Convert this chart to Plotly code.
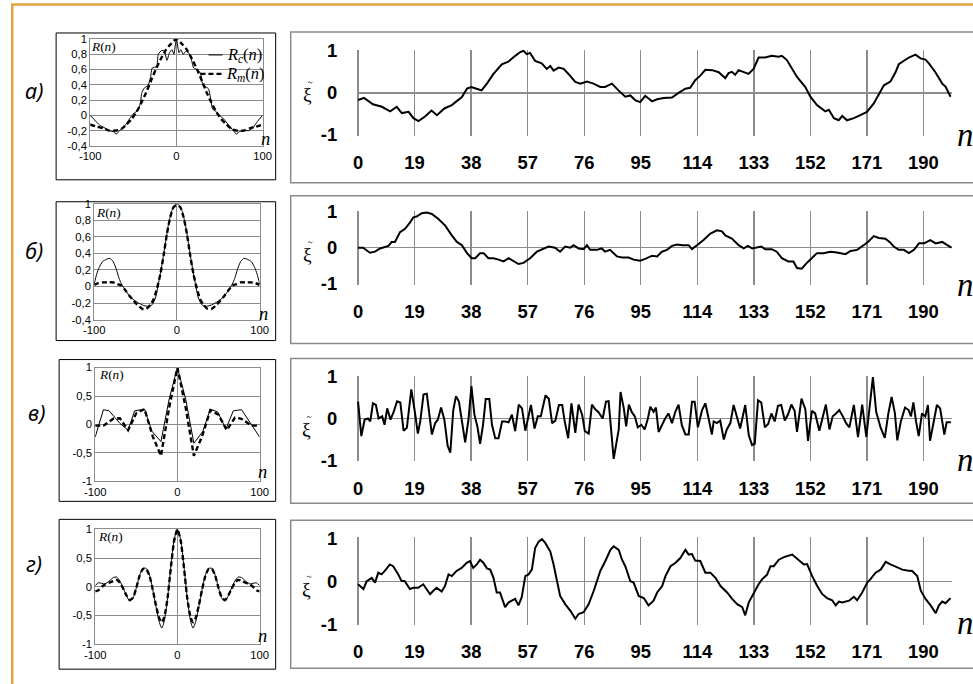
import plotly.graph_objects as go

W, H = 973, 684

# ---------------- DATA ----------------
# right panels: realisations xi(n), pairs (n, value)
xi_a = [(0,-0.17),(2,-0.12),(5,-0.27),(8,-0.33),(10.8,-0.44),(13,-0.33),(14.7,-0.48),(17,-0.45),(18.6,-0.6),(20.3,-0.67),(22.5,-0.56),(24.7,-0.42),(26.5,-0.53),(29,-0.37),(31.5,-0.29),(33.7,-0.17),(34.9,-0.1),(36.6,0.1),(38.1,0.14),(39.8,0.1),(41.5,0.06),(43.3,0.22),(45.5,0.45),(48.3,0.68),(50.5,0.74),(52.8,0.88),(54.5,0.97),(55.6,1.0),(56.7,0.92),(57.8,0.95),(59.5,0.76),(61.7,0.7),(63.4,0.57),(64.6,0.64),(65.7,0.53),(67.4,0.6),(69.1,0.57),(70.7,0.45),(73,0.26),(74.7,0.22),(76.9,0.27),(79.1,0.22),(81.4,0.14),(83,0.14),(85.3,0.22),(87.5,0.06),(89.8,-0.09),(91.5,-0.06),(93.1,-0.17),(94.8,-0.22),(96.5,-0.07),(98.8,-0.2),(100.5,-0.15),(102.7,-0.12),(105.5,-0.11),(107.7,0.0),(110,0.1),(111.6,0.12),(113.3,0.3),(115,0.41),(116.7,0.55),(119,0.54),(121.2,0.49),(123.4,0.35),(124.5,0.47),(125.6,0.5),(126.7,0.43),(127.9,0.54),(129.6,0.5),(131.2,0.45),(132.9,0.57),(134.6,0.84),(136.8,0.84),(139,0.88),(141.3,0.86),(142.4,0.88),(144.1,0.78),(145.8,0.57),(147.5,0.38),(150.3,0.14),(152,-0.09),(154.2,-0.29),(157,-0.44),(158.2,-0.4),(159.9,-0.6),(161.5,-0.65),(162.7,-0.55),(164.3,-0.65),(166.6,-0.6),(168.8,-0.53),(171,-0.45),(173.3,-0.25),(175,-0.02),(176.7,0.18),(178.9,0.27),(180.6,0.49),(181.7,0.68),(182.8,0.73),(184,0.79),(185.1,0.84),(187.3,0.91),(189,0.82),(190.7,0.79),(191.8,0.7),(194,0.49),(196.3,0.22),(197.4,0.15),(199.1,-0.09)]

xi_b = [(0,0.0),(1.7,0.0),(4,-0.14),(5.7,-0.11),(7.4,-0.02),(9.1,0.03),(10.2,0.05),(11.3,0.16),(12.4,0.16),(14.1,0.43),(15.8,0.52),(17.5,0.7),(18.6,0.84),(19.7,0.86),(21.4,0.95),(23.1,0.97),(24.8,0.93),(27,0.79),(29.3,0.61),(31.5,0.34),(33.2,0.16),(34.9,0.07),(36.6,-0.15),(38.2,-0.29),(39.4,-0.29),(41,-0.15),(42.2,-0.15),(43.8,-0.29),(45.5,-0.29),(47.2,-0.33),(48.9,-0.38),(50.6,-0.29),(52.3,-0.38),(53.9,-0.45),(55.6,-0.42),(57.8,-0.29),(60.1,-0.11),(61.8,-0.04),(64,0.03),(66.2,0.0),(67.9,-0.11),(69.6,0.03),(71.3,0.0),(72.4,0.07),(74.1,-0.02),(75.8,-0.04),(76.9,0.07),(78,-0.06),(80.2,-0.06),(81.9,-0.02),(83,-0.11),(84.7,-0.06),(87,-0.24),(88.7,-0.27),(90.9,-0.27),(92.6,-0.33),(94.8,-0.36),(96.5,-0.31),(98.8,-0.22),(100.5,-0.24),(102.1,-0.11),(103.8,-0.06),(105.5,0.05),(107.2,0.09),(108.9,0.07),(111.1,0.07),(112.2,-0.04),(113.9,0.07),(116.1,0.21),(118.4,0.39),(120.6,0.48),(122.3,0.45),(123.4,0.34),(125.6,0.25),(127.9,0.07),(129.6,-0.02),(131,0.05),(132.4,-0.02),(134,0.0),(135.5,0.03),(136.8,-0.04),(139,-0.04),(140.7,-0.11),(142.4,-0.29),(144.6,-0.38),(146.3,-0.38),(147.5,-0.56),(149.1,-0.58),(150.8,-0.42),(152.5,-0.29),(154.2,-0.15),(156.4,-0.15),(158.7,-0.11),(160.9,-0.13),(163.8,-0.18),(165.5,-0.09),(167.7,-0.06),(169.9,0.07),(171.6,0.18),(173.3,0.32),(175,0.27),(177.2,0.25),(178.9,0.14),(180,0.03),(181.7,-0.06),(183.4,-0.06),(185.1,-0.15),(186.8,-0.06),(188.5,0.12),(190.2,0.12),(192.3,0.21),(194.1,0.12),(196.3,0.16),(198,0.07),(199.4,0.0)]

xi_c = [(0,0.4),(1.1,-0.42),(2.2,-0.03),(3.3,0.0),(4.1,-0.07),(5.0,0.36),(6.0,0.32),(6.9,0.0),(8.1,0.05),(8.9,-0.15),(9.8,0.24),(10.9,-0.03),(12.0,0.16),(13.1,0.41),(14.2,0.38),(15.3,-0.29),(16.4,-0.22),(17.9,0.69),(19.0,0.2),(20.1,-0.36),(20.9,-0.07),(22.0,0.57),(23.1,0.59),(24.8,-0.38),(25.9,-0.11),(26.8,-0.03),(27.9,0.26),(29.0,-0.03),(30.1,-0.65),(31.0,-0.81),(32.0,0.2),(32.9,0.53),(33.9,0.4),(35.1,-0.22),(36.0,-0.57),(37.1,-0.03),(38.1,0.77),(39.1,0.09),(40.1,-0.19),(41.0,-0.6),(42.0,-0.15),(42.9,0.46),(44.1,0.46),(45.0,-0.15),(46.1,-0.47),(47.2,-0.47),(48.4,-0.07),(49.5,-0.07),(50.6,-0.09),(51.7,0.09),(52.8,-0.3),(54.0,0.33),(55.1,0.24),(56.2,-0.29),(57.1,0.02),(58.1,0.32),(59.3,-0.24),(60.4,0.05),(61.4,0.05),(63.0,0.55),(64.1,0.47),(65.2,-0.11),(66.3,-0.05),(67.5,0.32),(68.6,0.32),(69.4,-0.05),(70.6,-0.47),(71.7,0.36),(73.0,-0.34),(74.1,0.33),(75.3,0.09),(76.2,-0.3),(77.5,-0.36),(78.6,0.33),(79.7,0.22),(80.8,0.15),(82.2,0.0),(83.3,0.4),(84.2,0.41),(85.9,-0.96),(87.6,-0.26),(88.2,0.63),(89.3,0.24),(90.1,-0.19),(91.0,0.33),(92.0,0.15),(93.0,0.05),(94.0,-0.21),(95.2,-0.15),(96.3,-0.26),(97.4,0.0),(98.2,0.28),(99.3,0.16),(100.1,0.26),(101.0,-0.32),(102.1,-0.15),(103.2,0.0),(104.3,0.12),(105.5,-0.11),(106.6,0.16),(107.7,0.33),(108.8,-0.16),(110.0,-0.38),(111.1,-0.38),(112.2,0.4),(113.1,0.4),(114.2,-0.21),(115.6,0.2),(116.7,0.36),(117.8,0.0),(118.9,-0.38),(119.5,-0.07),(120.6,-0.11),(121.7,-0.05),(122.9,-0.5),(123.9,-0.26),(125.1,-0.11),(126.2,0.32),(127.3,0.05),(128.4,-0.24),(130.1,0.32),(131.3,-0.4),(132.4,-0.63),(133.3,-0.6),(134.4,0.43),(135.5,0.38),(136.7,-0.21),(137.8,-0.13),(138.9,0.12),(140.0,-0.07),(141.1,0.3),(142.2,0.32),(143.4,-0.05),(144.5,0.1),(145.6,0.33),(146.7,0.18),(147.5,-0.32),(149.0,0.47),(150.3,0.22),(151.2,-0.53),(152.5,0.18),(153.6,0.12),(155.0,-0.29),(156.1,0.05),(157.2,0.33),(158.4,-0.26),(159.5,0.05),(160.6,0.12),(161.7,0.2),(162.9,0.05),(164.0,-0.11),(165.1,-0.21),(166.6,0.32),(168.0,-0.44),(169.4,0.33),(170.8,-0.44),(171.9,0.2),(173.0,0.98),(174.1,0.16),(175.6,-0.22),(177.0,-0.46),(178.2,0.12),(179.3,0.51),(180.4,0.12),(181.2,-0.52),(182.4,-0.07),(183.8,0.26),(185.0,0.2),(185.8,0.05),(186.6,0.38),(187.5,-0.07),(188.4,-0.42),(189.5,0.12),(190.6,0.05),(191.5,0.32),(192.2,-0.53),(193.3,-0.13),(194.5,0.32),(195.6,0.24),(197.0,-0.38),(197.8,-0.09),(199.2,-0.09)]

xi_d = [(0,-0.07),(1.8,-0.18),(2.9,0.0),(4.6,0.08),(5.7,-0.03),(6.8,0.2),(7.9,0.16),(9.0,0.24),(10.7,0.39),(11.8,0.35),(13.5,0.16),(14.6,0.01),(15.7,0.0),(17.4,-0.18),(18.6,-0.15),(20.2,-0.15),(21.9,-0.07),(23.0,-0.18),(24.2,-0.3),(25.3,-0.22),(26.4,-0.15),(28.1,-0.24),(29.2,-0.11),(30.4,0.16),(31.5,0.12),(33.1,0.24),(34.8,0.31),(36.5,0.43),(37.6,0.47),(38.7,0.31),(39.9,0.39),(41.0,0.5),(42.1,0.43),(43.3,0.3),(44.4,0.27),(45.5,0.08),(46.6,-0.26),(47.7,-0.26),(49.4,-0.6),(50.6,-0.49),(52.8,-0.41),(53.9,-0.56),(55.0,-0.37),(56.2,0.12),(57.3,0.16),(58.4,0.27),(59.5,0.77),(60.7,0.92),(61.8,0.98),(62.9,0.89),(64.6,0.69),(65.7,0.39),(66.8,0.0),(67.9,-0.34),(69.6,-0.53),(71.3,-0.68),(73.0,-0.87),(74.1,-0.76),(75.8,-0.72),(77.5,-0.53),(79.2,-0.22),(80.3,0.0),(81.4,0.24),(83.1,0.47),(84.8,0.73),(85.9,0.81),(87.6,0.73),(88.7,0.5),(89.8,0.35),(91.5,0.0),(92.6,-0.03),(94.3,-0.34),(96.0,-0.39),(97.6,-0.56),(99.3,-0.45),(100.5,-0.26),(102.2,-0.11),(103.3,0.12),(105.0,0.35),(106.7,0.43),(108.3,0.54),(110.0,0.73),(111.1,0.62),(112.2,0.63),(113.3,0.48),(115.0,0.47),(116.7,0.2),(118.4,0.2),(120.1,0.08),(121.8,-0.11),(122.9,-0.18),(124.0,-0.26),(125.7,-0.41),(127.4,-0.53),(129.1,-0.6),(130.1,-0.79),(131.3,-0.49),(133.0,-0.26),(134.6,-0.07),(135.8,0.05),(137.4,0.15),(138.6,0.35),(139.7,0.35),(141.4,0.5),(143.1,0.56),(145.9,0.62),(148.1,0.5),(149.8,0.39),(150.9,0.4),(152.6,0.12),(154.3,-0.11),(156.0,-0.3),(157.6,-0.39),(159.3,-0.44),(160.5,-0.56),(161.6,-0.47),(162.7,-0.49),(165.0,-0.45),(166.6,-0.36),(167.7,-0.44),(169.4,-0.26),(171.1,-0.03),(172.2,0.05),(173.9,0.2),(175.6,0.27),(177.3,0.45),(178.9,0.39),(181.2,0.31),(182.9,0.27),(184.5,0.25),(186.2,0.24),(187.9,0.12),(189.1,-0.22),(190.7,-0.41),(192.4,-0.56),(194.1,-0.74),(195.2,-0.56),(196.3,-0.47),(197.4,-0.51),(199.1,-0.39)]

# left panels: correlation functions, pairs (lag, R)
Rc_a = [(-100,0.0),(-95,-0.06),(-89,-0.13),(-84,-0.16),(-78,-0.2),(-72,-0.22),(-70,-0.25),(-66,-0.2),(-60,-0.14),(-54,-0.04),(-49,0.03),(-45,0.06),(-42,0.15),(-40,0.3),(-37,0.36),(-33,0.39),(-30,0.5),(-28,0.62),(-23,0.64),(-21,0.8),(-17,0.85),(-14,0.84),(-11,0.72),(-8,0.82),(-5,0.86),(-3,0.8),(0,1.0),(3,0.82),(5,0.86),(8,0.8),(11,0.84),(14,0.82),(17,0.75),(20,0.62),(24,0.6),(28,0.55),(30,0.42),(33,0.38),(37,0.35),(40,0.2),(42,0.08),(46,0.05),(50,0.0),(55,-0.05),(60,-0.12),(66,-0.2),(70,-0.25),(72,-0.22),(78,-0.2),(84,-0.2),(89,-0.16),(94,-0.08),(100,0.0)]
Rm_a = [(-100,-0.12),(-92,-0.15),(-85,-0.17),(-78,-0.2),(-70,-0.2),(-64,-0.18),(-58,-0.12),(-52,-0.05),(-46,0.05),(-40,0.18),(-35,0.3),(-30,0.44),(-24,0.6),(-18,0.74),(-12,0.86),(-6,0.94),(0,1.0),(6,0.94),(12,0.86),(18,0.74),(24,0.6),(30,0.44),(35,0.3),(40,0.18),(46,0.05),(52,-0.05),(58,-0.12),(64,-0.18),(70,-0.2),(78,-0.2),(85,-0.17),(92,-0.15),(100,-0.12)]

Rc_b = [(-100,0.03),(-97,0.15),(-94,0.23),(-90,0.3),(-85,0.33),(-81,0.34),(-77,0.3),(-73,0.2),(-70,0.1),(-67,0.03),(-62,-0.05),(-56,-0.13),(-48,-0.19),(-40,-0.23),(-34,-0.24),(-30,-0.22),(-26,-0.14),(-22,0.05),(-18,0.27),(-14,0.52),(-10,0.76),(-6,0.92),(-3,0.98),(0,1.0),(3,0.98),(6,0.92),(10,0.76),(14,0.52),(18,0.27),(22,0.05),(26,-0.14),(30,-0.22),(34,-0.24),(40,-0.23),(48,-0.19),(56,-0.13),(62,-0.05),(67,0.03),(70,0.1),(73,0.2),(77,0.3),(81,0.34),(85,0.33),(90,0.3),(94,0.23),(97,0.15),(100,0.03)]
Rm_b = [(-100,0.02),(-95,0.04),(-89,0.05),(-83,0.05),(-77,0.05),(-72,0.03),(-67,0.01),(-62,-0.05),(-56,-0.13),(-48,-0.22),(-42,-0.27),(-37,-0.27),(-32,-0.22),(-28,-0.15),(-24,-0.02),(-20,0.15),(-16,0.38),(-12,0.64),(-8,0.84),(-4,0.96),(0,0.98),(4,0.96),(8,0.84),(12,0.64),(16,0.38),(20,0.15),(24,-0.02),(28,-0.15),(32,-0.22),(37,-0.27),(42,-0.27),(48,-0.22),(56,-0.13),(62,-0.05),(67,0.01),(72,0.03),(77,0.05),(83,0.05),(89,0.05),(95,0.04),(100,0.02)]

Rc_c = [(-100,-0.22),(-90,0.26),(-83,0.24),(-70,0.02),(-60,-0.1),(-52,0.24),(-40,0.27),(-31,-0.12),(-20,-0.3),(-10,0.45),(0,1.0),(10,0.45),(20,-0.33),(31,-0.12),(40,0.27),(49,0.22),(59,-0.08),(68,0.24),(78,0.26),(89,0.03),(100,-0.22)]
Rm_c = [(-100,-0.02),(-90,-0.02),(-78,0.1),(-70,0.11),(-60,-0.1),(-50,0.2),(-40,0.27),(-30,-0.21),(-20,-0.55),(-10,0.3),(0,1.0),(10,0.3),(20,-0.55),(30,-0.21),(40,0.25),(50,0.17),(60,-0.1),(70,0.12),(78,0.1),(90,-0.02),(100,-0.02)]

Rc_d = [(-100,0.02),(-96,0.07),(-92,0.06),(-88,0.05),(-83,0.1),(-78,0.16),(-74,0.17),(-70,0.1),(-66,-0.02),(-62,-0.15),(-58,-0.25),(-54,-0.2),(-50,-0.02),(-46,0.2),(-42,0.32),(-38,0.32),(-34,0.2),(-30,-0.05),(-26,-0.35),(-22,-0.62),(-19,-0.72),(-16,-0.6),(-12,-0.2),(-8,0.35),(-4,0.82),(0,1.0),(4,0.82),(8,0.35),(12,-0.2),(16,-0.6),(19,-0.72),(22,-0.62),(26,-0.35),(30,-0.05),(34,0.2),(38,0.32),(42,0.32),(46,0.2),(50,-0.02),(54,-0.2),(58,-0.25),(62,-0.15),(66,-0.02),(70,0.1),(74,0.17),(78,0.16),(83,0.1),(88,0.05),(92,0.06),(96,0.07),(100,0.02)]
Rm_d = [(-100,-0.08),(-96,-0.06),(-92,0.0),(-88,0.04),(-83,0.07),(-78,0.1),(-74,0.12),(-70,0.07),(-66,-0.03),(-62,-0.15),(-58,-0.23),(-54,-0.19),(-50,-0.02),(-46,0.19),(-42,0.31),(-38,0.31),(-34,0.19),(-30,-0.05),(-26,-0.33),(-22,-0.55),(-19,-0.62),(-16,-0.53),(-12,-0.2),(-8,0.33),(-4,0.8),(0,1.0),(4,0.8),(8,0.33),(12,-0.2),(16,-0.53),(19,-0.62),(22,-0.55),(26,-0.33),(30,-0.05),(34,0.19),(38,0.31),(42,0.31),(46,0.19),(50,-0.02),(54,-0.19),(58,-0.23),(62,-0.15),(66,-0.03),(70,0.07),(74,0.12),(78,0.1),(83,0.07),(88,0.04),(92,0.0),(96,-0.06),(100,-0.08)]

row_labels = ["а)", "б)", "в)", "г)"]
xi_ticks = [0, 19, 38, 57, 76, 95, 114, 133, 152, 171, 190]
r_ticks_ab = [-0.4, -0.2, 0, 0.2, 0.4, 0.6, 0.8, 1]
r_text_ab = ["-0,4", "-0,2", "0", "0,2", "0,4", "0,6", "0,8", "1"]
r_ticks_cd = [-1, -0.5, 0, 0.5, 1]
r_text_cd = ["-1", "-0,5", "0", "0,5", "1"]

# ---------------- LAYOUT GEOMETRY (target picture pixels) ----------------
left_areas = [(87, 259, 37, 144), (91, 256, 202, 318), (92, 256, 366, 480), (92, 256, 528, 643)]
right_areas = [(353, 947, 48, 134), (353, 947, 209, 283), (353, 947, 374, 460), (353, 947, 536, 624)]
left_boxes = [(53, 31, 272, 178), (53, 200, 272, 339), (56, 358, 272, 500), (56, 518, 272, 668)]
right_boxes = [(287, 30, 1000, 181), (287, 194, 1000, 342), (287, 357, 1000, 502), (287, 519, 1000, 667)]

# the photographed page appears offset by ~8px and scaled slightly; compensate
OFF_X, OFF_Y, SC_X, SC_Y = 8.0, 8.0, 0.977, 0.972
K = 1 / SC_X

def fx(p):
    return ((p - OFF_X) / SC_X) / W

def fy(p):
    return 1 - ((p - OFF_Y) / SC_Y) / H

GRID = "#8c8c8c"
SANS = "Liberation Sans, Arial, sans-serif"
SERIF = "Liberation Serif, Times New Roman, serif"

fig = go.Figure()
layout = dict(width=W, height=H, margin=dict(l=0, r=0, t=0, b=0), hovermode=False,
              paper_bgcolor="white", plot_bgcolor="white", showlegend=False)

corr = [(Rc_a, Rm_a, "spline"), (Rc_b, Rm_b, "spline"), (Rc_c, Rm_c, "linear"), (Rc_d, Rm_d, "spline")]
series = [xi_a, xi_b, xi_c, xi_d]

for i in range(4):
    li, ri = 2 * i + 1, 2 * i + 2
    lx, rx = ("x" if li == 1 else f"x{li}"), f"x{ri}"
    ly, ry = ("y" if li == 1 else f"y{li}"), f"y{ri}"
    x0, x1, y0, y1 = left_areas[i]
    ab = i < 2
    layout["xaxis" if li == 1 else f"xaxis{li}"] = dict(
        domain=[fx(x0), fx(x1)], anchor=ly, range=[-100, 100],
        tickvals=[-100, 0, 100], ticktext=["-100", "0", "100"], ticks="",
        showgrid=False, zeroline=True, zerolinecolor=GRID, zerolinewidth=1,
        showline=True, mirror=True, linecolor=GRID, linewidth=1,
        tickfont=dict(family=SANS, size=11 * K, color="black"), fixedrange=True)
    layout["yaxis" if li == 1 else f"yaxis{li}"] = dict(
        domain=[fy(y1), fy(y0)], anchor=lx,
        range=[-0.4, 1] if ab else [-1, 1],
        tickvals=r_ticks_ab if ab else r_ticks_cd,
        ticktext=r_text_ab if ab else r_text_cd, ticks="",
        showgrid=True, gridcolor=GRID, gridwidth=1, zeroline=False,
        showline=True, mirror=True, linecolor=GRID, linewidth=1,
        tickfont=dict(family=SANS, size=11 * K, color="black"), fixedrange=True)
    X0, X1, Y0, Y1 = right_areas[i]
    layout[f"xaxis{ri}"] = dict(
        domain=[fx(X0), fx(X1)], anchor=ry, range=[-0.4, 199.7],
        tickvals=xi_ticks, ticktext=[str(t) for t in xi_ticks],
        ticks="outside", ticklen=10, tickcolor="rgba(0,0,0,0)",
        showgrid=True, gridcolor=GRID, gridwidth=1.3, zeroline=False, showline=False,
        tickfont=dict(family=SANS, size=18 * K, color="black", weight="bold"), fixedrange=True)
    layout[f"yaxis{ri}"] = dict(
        domain=[fy(Y1), fy(Y0)], anchor=rx, range=[-1.02, 1.02],
        tickvals=[-1, 0, 1], ticktext=["-1", "0", "1"],
        ticks="outside", ticklen=15, tickcolor="rgba(0,0,0,0)",
        showgrid=True, gridcolor=GRID, gridwidth=1.3, zeroline=False, showline=False,
        tickfont=dict(family=SANS, size=18 * K, color="black", weight="bold"), fixedrange=True)

    rc, rm, shape = corr[i]
    fig.add_trace(go.Scatter(x=[p[0] for p in rc], y=[p[1] for p in rc], mode="lines",
                             line=dict(color="black", width=1, shape=shape, smoothing=0.6),
                             xaxis=lx, yaxis=ly))
    fig.add_trace(go.Scatter(x=[p[0] for p in rm], y=[p[1] for p in rm], mode="lines",
                             line=dict(color="black", width=2.4, dash="5px,3px", shape=shape, smoothing=0.6),
                             xaxis=lx, yaxis=ly))
    s = series[i]
    fig.add_trace(go.Scatter(x=[p[0] for p in s], y=[p[1] for p in s], mode="lines",
                             line=dict(color="black", width=2),
                             xaxis=rx, yaxis=ry))

shapes = []
for (a, b, c, d) in left_boxes:
    shapes.append(dict(type="rect", xref="paper", yref="paper", x0=fx(a), x1=fx(c), y0=fy(b), y1=fy(d),
                       line=dict(color="black", width=1), layer="above"))
for (a, b, c, d) in right_boxes:
    shapes.append(dict(type="rect", xref="paper", yref="paper", x0=fx(a), x1=fx(c), y0=fy(b), y1=fy(d),
                       line=dict(color="#8a8a8a", width=1.5), layer="above"))
ORANGE = "#E5A23D"
top_y = max(fy(2.5), 1 - 1.3 / H)
left_x = max(fx(5), 1.3 / W)
shapes.append(dict(type="line", xref="paper", yref="paper", x0=0, x1=1.05, y0=top_y, y1=top_y,
                   line=dict(color=ORANGE, width=2.5)))
shapes.append(dict(type="line", xref="paper", yref="paper", x0=left_x, x1=left_x, y0=-0.05, y1=top_y,
                   line=dict(color=ORANGE, width=2.5)))
# legend samples (row a)
shapes.append(dict(type="line", xref="paper", yref="paper", x0=fx(205), x1=fx(219), y0=fy(53), y1=fy(53),
                   line=dict(color="black", width=1)))
shapes.append(dict(type="line", xref="paper", yref="paper", x0=fx(197), x1=fx(218), y0=fy(72), y1=fy(72),
                   line=dict(color="black", width=2.4, dash="5px,3px")))

ann = []
def text(x, y, t, size, family, xanchor="center", yanchor="middle", style="normal", weight="normal"):
    ann.append(dict(x=fx(x), y=fy(y), xref="paper", yref="paper", text=t, showarrow=False,
                    xanchor=xanchor, yanchor=yanchor,
                    font=dict(size=size * K, family=family, color="black", style=style, weight=weight)))

row_label_pos = [(31, 89), (31, 249), (33, 411), (31, 562)]
for (x, y), t in zip(row_label_pos, row_labels):
    text(x, y, t, 21, "Noto Sans, DejaVu Sans", style="italic")

rn_pos = [(100, 45), (105, 211), (108, 373), (107, 535)]
for (x, y) in rn_pos:
    text(x, y, "<i>R</i>(<i>n</i>)", 13, SERIF)

ln_pos = [(262, 137), (260, 312), (259, 471), (259, 635)]
for (x, y) in ln_pos:
    text(x, y, "n", 18, SERIF, style="italic")

rnr_pos = [(960, 133), (960, 283), (960, 459), (960, 622)]
for (x, y) in rnr_pos:
    text(x, y, "n", 32, SERIF, style="italic")

xi_pos = [(304, 93), (304, 253), (303, 428), (303, 588)]
for (x, y) in xi_pos:
    text(x, y, "ξ", 19, SERIF)
    # small tilde accent above the xi, drawn as a tiny wavy stroke
    tx, ty = x + 2.5, y - 12.5
    path = (f"M {fx(tx - 2.2)},{fy(ty + 0.4)} "
            f"Q {fx(tx - 1.1)},{fy(ty - 1.4)} {fx(tx)},{fy(ty)} "
            f"T {fx(tx + 2.2)},{fy(ty - 0.4)}")
    shapes.append(dict(type="path", xref="paper", yref="paper", path=path,
                       line=dict(color="#333333", width=0.9)))

text(221, 53, "<i>R<sub>c</sub></i>(<i>n</i>)", 16, SERIF, xanchor="left")
text(220, 72, "<i>R<sub>m</sub></i>(<i>n</i>)", 16, SERIF, xanchor="left")

layout["shapes"] = shapes
layout["annotations"] = ann
fig.update_layout(**layout)
fig.write_html("out.html",
               config={"displayModeBar": False, "staticPlot": True},
               post_script="document.body.style.margin='0px';"
                           "document.documentElement.style.overflow='hidden';"
                           "document.body.style.overflow='hidden';")
